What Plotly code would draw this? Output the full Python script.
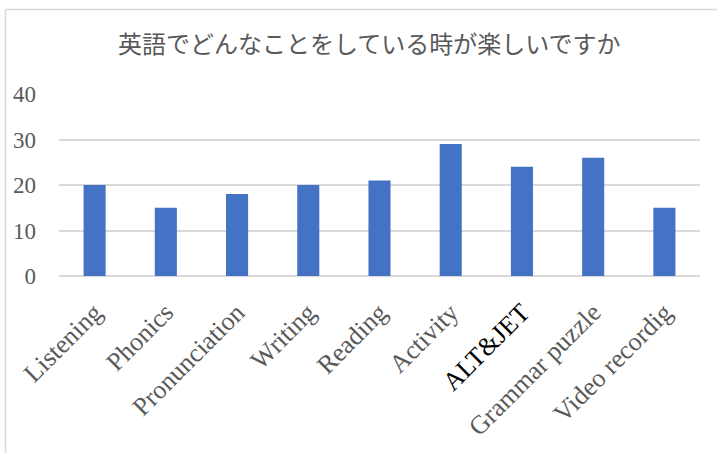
import plotly.graph_objects as go

categories = ["Listening", "Phonics", "Pronunciation", "Writing", "Reading",
              "Activity", "ALT&JET", "Grammar puzzle", "Video recordig"]
values = [20, 15, 18, 20, 21, 29, 24, 26, 15]
tick_labels = ["Listening", "Phonics", "Pronunciation", "Writing", "Reading",
               "Activity", "<span style='color:#000000'>ALT&amp;JET</span>",
               "Grammar puzzle", "Video recordig"]
title_text = "英語でどんなことをしている時が楽しいですか"

W, H = 717, 453
L, R, T, B = 59, 17, 94, 177
FONT = "Liberation Serif, Noto Sans CJK JP, serif"
GRAY = "#595959"

fig = go.Figure(go.Bar(x=categories, y=values, marker_color="#4472C4",
                       marker_line_width=0))

pw = W - L - R
ph = H - T - B
def px_x(p):
    return (p - L) / pw
def px_y(p):
    return 1 - (p - T) / ph

fig.update_layout(
    width=W, height=H,
    margin=dict(l=L, r=R, t=T, b=B, autoexpand=False),
    paper_bgcolor="white", plot_bgcolor="white",
    bargap=0.69,
    showlegend=False,
    title=dict(text=title_text, x=0.515, xref="container", xanchor="center",
               y=1 - 45 / H, yref="container", yanchor="middle",
               font=dict(family=FONT, size=24, color=GRAY)),
    xaxis=dict(tickvals=categories, ticktext=tick_labels, tickangle=-45,
               tickfont=dict(family=FONT, size=26, color=GRAY),
               showgrid=False, showline=False, ticks="", ticklabelstandoff=15),
    yaxis=dict(range=[0, 40], dtick=10, showgrid=True, gridcolor="#D9D9D9",
               gridwidth=1.5, zeroline=True, zerolinecolor="#D9D9D9",
               zerolinewidth=1.5, showline=False, ticks="",
               tickfont=dict(family=FONT, size=23, color=GRAY),
               ticklabelstandoff=22),
    shapes=[
        dict(type="line", xref="paper", yref="paper",
             x0=px_x(5.5), x1=px_x(W + 2), y0=px_y(9.5), y1=px_y(9.5),
             line=dict(color="#D9D9D9", width=1.5)),
        dict(type="line", xref="paper", yref="paper",
             x0=px_x(5.5), x1=px_x(5.5), y0=px_y(9.5), y1=px_y(H + 2),
             line=dict(color="#D9D9D9", width=1.5)),
    ],
)

fig.write_html("out.html")
